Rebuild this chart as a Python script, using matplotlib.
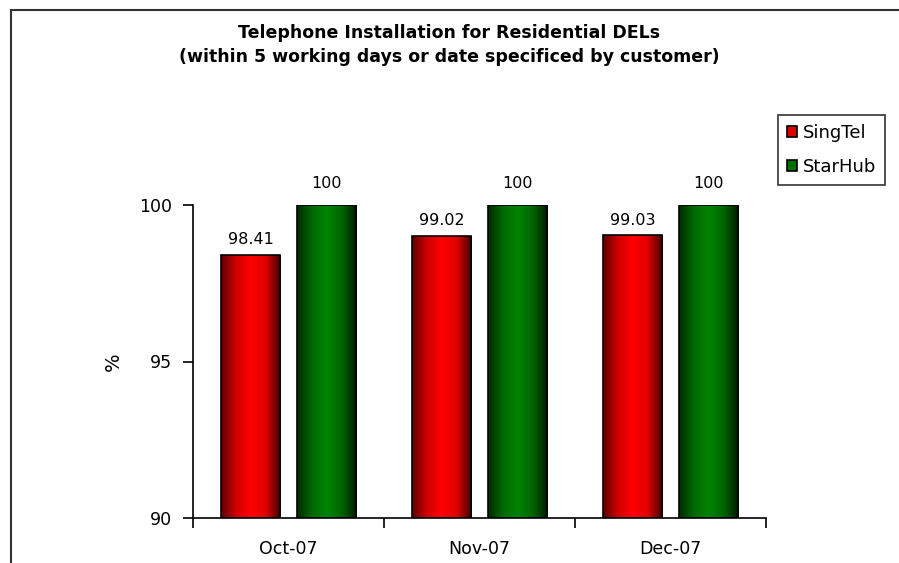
import numpy as np
import matplotlib
matplotlib.use('Agg')
import matplotlib.pyplot as plt
from matplotlib.colors import LinearSegmentedColormap
from matplotlib.patches import Rectangle

months = ['Oct-07', 'Nov-07', 'Dec-07']
singtel = [98.41, 99.02, 99.03]
starhub = [100, 100, 100]
singtel_labels = ['98.41', '99.02', '99.03']
starhub_labels = ['100', '100', '100']
yticks = [90, 95, 100]

plt.rcParams['font.family'] = ['DejaVu Sans']

red_cmap = LinearSegmentedColormap.from_list('r', ['#5a0000', '#d00000', '#ff0000', '#e00000', '#3a0000'])
green_cmap = LinearSegmentedColormap.from_list('g', ['#002800', '#006a00', '#008400', '#006400', '#001800'])


def gradient_bars(ax, bars, cmap):
    grad = np.linspace(0, 1, 256).reshape(1, -1)
    for b in bars:
        x0, y0 = b.get_x(), b.get_y()
        w, h = b.get_width(), b.get_height()
        im = ax.imshow(grad, cmap=cmap, aspect='auto', extent=(x0, x0 + w, y0, y0 + h),
                       zorder=2, interpolation='bicubic')
        im.set_clip_path(b)
        b.set_facecolor('none')
        b.set_zorder(3)


def main():
    fig = plt.figure(figsize=(8.99, 5.63), dpi=100)
    ax = fig.add_axes([193 / 899, 1 - 518 / 563, (766 - 193) / 899, (518 - 205) / 563])

    x = np.arange(len(months))
    w = 0.31
    b1 = ax.bar(x - 0.197, [v - 90 for v in singtel], w, bottom=90, edgecolor='black',
                linewidth=1.2, label='SingTel', color='#e00000')
    b2 = ax.bar(x + 0.197, [v - 90 for v in starhub], w, bottom=90, edgecolor='black',
                linewidth=1.2, label='StarHub', color='#007000')
    gradient_bars(ax, b1, red_cmap)
    gradient_bars(ax, b2, green_cmap)

    for xi, v, s in zip(x, singtel, singtel_labels):
        ax.text(xi - 0.197, v + 0.25, s, ha='center', va='bottom', fontsize=11.5)
    for xi, v, s in zip(x, starhub, starhub_labels):
        ax.text(xi + 0.197, v + 0.45, s, ha='center', va='bottom', fontsize=11.5)

    ax.set_xlim(-0.5, 2.5)
    ax.set_ylim(90, 100)
    ax.set_yticks(yticks)
    ax.set_yticklabels([str(t) for t in yticks], fontsize=12.5)
    ax.set_xticks([-0.5, 0.5, 1.5, 2.5])
    ax.set_xticklabels([])
    ax.set_xticks(x, minor=True)
    ax.set_xticklabels(months, minor=True, fontsize=12.5)
    ax.tick_params(axis='x', which='minor', length=0, pad=16)
    ax.tick_params(axis='both', which='major', direction='out', length=7, width=1.2, pad=8)
    ax.spines['top'].set_visible(False)
    ax.spines['right'].set_visible(False)
    ax.spines['left'].set_linewidth(1.2)
    ax.spines['bottom'].set_linewidth(1.2)
    ax.set_ylabel('%', fontsize=14, labelpad=12)

    fig.text(449 / 899, 1 - 45 / 563,
             'Telephone Installation for Residential DELs\n(within 5 working days or date specificed by customer)',
             ha='center', va='center', fontsize=12.5, fontweight='bold', linespacing=1.5)

    leg = fig.legend(handles=[b1, b2], loc='upper left', bbox_to_anchor=(778 / 899, 1 - 115 / 563),
                     fontsize=13, frameon=True, fancybox=False, handlelength=0.55, handleheight=0.55,
                     handletextpad=0.3, borderpad=0.5, labelspacing=0.9, borderaxespad=0)
    leg.get_frame().set_edgecolor('black')
    leg.get_frame().set_linewidth(1.2)
    for h, c in zip(leg.legend_handles, ['#e00000', '#007000']):
        h.set_facecolor(c)
        h.set_edgecolor('black')

    fig.patches.append(Rectangle((11 / 899, -0.05), 1.0, 1 - 10 / 563 + 0.05, transform=fig.transFigure,
                                 fill=False, edgecolor='#333333', linewidth=1.5))

    fig.savefig('out.png', dpi=100)


if __name__ == '__main__':
    main()
